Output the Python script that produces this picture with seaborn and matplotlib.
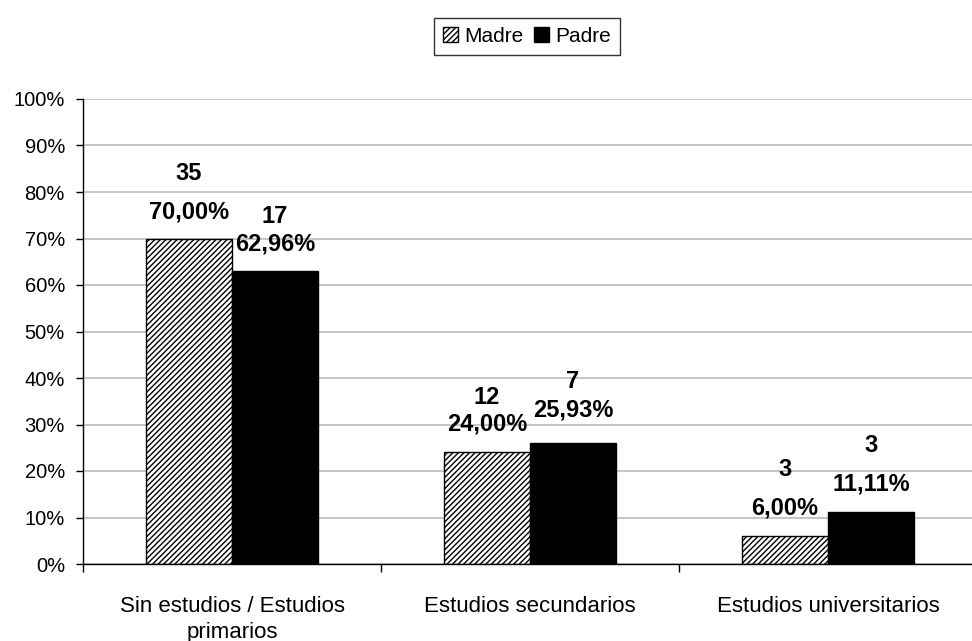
import matplotlib
matplotlib.use("Agg")
import matplotlib.pyplot as plt
from matplotlib.patches import Patch
from matplotlib.ticker import FuncFormatter, FixedLocator
import seaborn as sns
import pandas as pd

# Nivel de estudios de los progenitores
categorias = ["Sin estudios / Estudios\nprimarios", "Estudios secundarios", "Estudios universitarios"]
series = ["Madre", "Padre"]
madre_n = [35, 12, 3]
padre_n = [17, 7, 3]
madre_pct = [70.00, 24.00, 6.00]
padre_pct = [62.96, 25.93, 11.11]
y_ticks = [0, 10, 20, 30, 40, 50, 60, 70, 80, 90, 100]

df = pd.DataFrame({
    "categoria": categorias * 2,
    "serie": [series[0]] * 3 + [series[1]] * 3,
    "pct": madre_pct + padre_pct,
    "n": madre_n + padre_n,
})

sns.set_theme(style="white")
plt.rcParams["font.family"] = ["Liberation Sans", "DejaVu Sans"]
plt.rcParams["hatch.linewidth"] = 1.0

fig = plt.figure(figsize=(9.72, 6.41), dpi=100)
ax = fig.add_axes([83 / 972, 77 / 641, 894 / 972, 465 / 641])

sns.barplot(data=df, x="categoria", y="pct", hue="serie", order=categorias,
            hue_order=series, palette={"Madre": "white", "Padre": "black"},
            width=0.577, edgecolor="black", linewidth=1.0, legend=False,
            errorbar=None, saturation=1, ax=ax)

bars = [p for p in ax.patches if p.get_height() > 0]
bars.sort(key=lambda p: p.get_x())
madre_bars = [b for b in bars if b.get_facecolor()[0] > 0.5]
padre_bars = [b for b in bars if b.get_facecolor()[0] <= 0.5]
for b in madre_bars:
    b.set_hatch("//////")

ax.set_xlim(-0.5, 2.5)
ax.set_ylim(0, 100)
ax.yaxis.set_major_locator(FixedLocator(y_ticks))
ax.yaxis.set_major_formatter(FuncFormatter(lambda v, _: f"{v:.0f}%"))
ax.xaxis.set_major_locator(FixedLocator([-0.5, 0.5, 1.5, 2.5]))
ax.xaxis.set_minor_locator(FixedLocator([0, 1, 2]))
ax.set_xticklabels([])
ax.set_xticklabels(categorias, minor=True)
ax.tick_params(axis="x", which="minor", length=0, pad=23, labelsize=16)
ax.tick_params(axis="x", which="major", direction="out", length=6, width=1,
               color="black", bottom=True)
ax.tick_params(axis="y", direction="out", length=5, width=1, color="black",
               left=True, pad=8, labelsize=14.5, labelcolor="black")
for lbl in ax.get_xticklabels(minor=True):
    lbl.set_color("black")
    lbl.set_multialignment("center")
    lbl.set_linespacing(1.3)

ax.set_xlabel("")
ax.set_ylabel("")
ax.grid(axis="y", color="#c0c0c0", linewidth=1.3)
ax.set_axisbelow(True)
for side in ("top", "right"):
    ax.spines[side].set_visible(False)
for side in ("left", "bottom"):
    ax.spines[side].set_color("black")
    ax.spines[side].set_linewidth(1.0)

# Etiquetas: recuento arriba y porcentaje debajo
pct_offset = [27, 27, 28, 33, 28, 28]
count_gap = [38, 28, 27, 29, 39, 39]
label_bars = []
for i in range(3):
    label_bars.append((madre_bars[i], madre_n[i], madre_pct[i]))
    label_bars.append((padre_bars[i], padre_n[i], padre_pct[i]))
for k, (bar, n, pct) in enumerate(label_bars):
    xc = bar.get_x() + bar.get_width() / 2
    ax.annotate(f"{pct:.2f}%".replace(".", ","), (xc, pct), xytext=(0, pct_offset[k]),
                textcoords="offset pixels", ha="center", va="center",
                fontsize=17, fontweight="bold", color="black")
    ax.annotate(f"{n}", (xc, pct), xytext=(0, pct_offset[k] + count_gap[k]),
                textcoords="offset pixels", ha="center", va="center",
                fontsize=17, fontweight="bold", color="black")

handles = [Patch(facecolor="white", edgecolor="black", hatch="//////", label="Madre"),
           Patch(facecolor="black", edgecolor="black", label="Padre")]
leg = fig.legend(handles=handles, loc="center", bbox_to_anchor=(527 / 972, 1 - 36.5 / 641),
                 ncol=2, frameon=True, fancybox=False, fontsize=15,
                 handlelength=0.7, handleheight=0.7, handletextpad=0.3,
                 columnspacing=0.5, borderpad=0.45, borderaxespad=0)
leg.get_frame().set_edgecolor("black")
leg.get_frame().set_linewidth(1.0)
for t in leg.get_texts():
    t.set_color("black")

fig.savefig("out.png", dpi=100)
